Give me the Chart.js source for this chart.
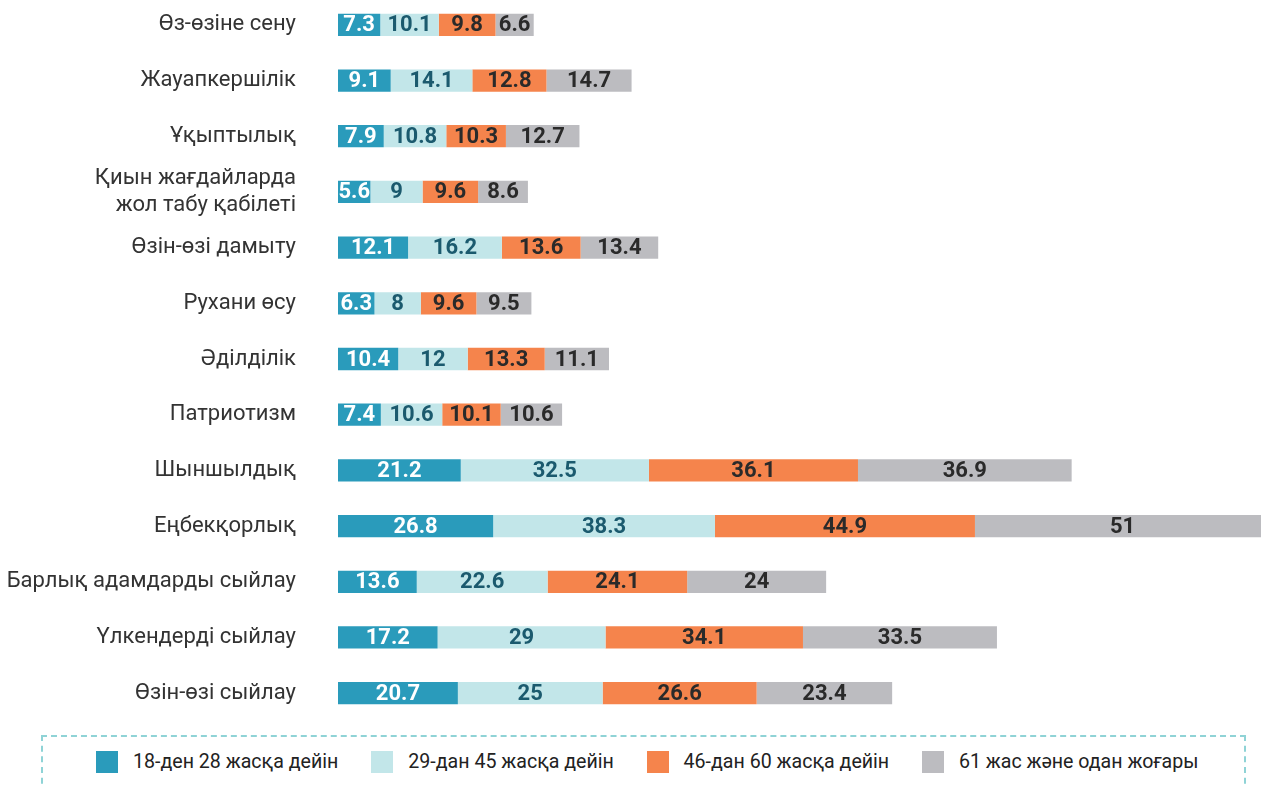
<!DOCTYPE html>
<html><head><meta charset="utf-8">
<script src="https://cdn.jsdelivr.net/npm/chart.js@4.4.1/dist/chart.umd.min.js"></script>
<style>
html,body{margin:0;padding:0;background:#fff;width:1261px;height:785px;overflow:hidden;position:relative;font-family:Roboto,"Noto Sans",sans-serif;}
#wrap{position:absolute;left:0;top:-3px;width:1261px;height:724px;}
#legend{position:absolute;left:41px;top:735px;width:1205px;height:70px;border:2px dashed #8fd3d6;border-bottom:none;box-sizing:border-box;}
.item{position:absolute;top:13px;display:flex;align-items:center;font-size:19.6px;color:#222;white-space:nowrap;}
.sw{width:22px;height:22px;margin-right:15px;}
</style></head><body>
<div id="wrap"><canvas id="c"></canvas></div>
<div id="legend"></div>
<script>
const categories = ["Өз-өзіне сену","Жауапкершілік","Ұқыптылық",["Қиын жағдайларда","жол табу қабілеті"],"Өзін-өзі дамыту","Рухани өсу","Әділділік","Патриотизм","Шыншылдық","Еңбекқорлық","Барлық адамдарды сыйлау","Үлкендерді сыйлау","Өзін-өзі сыйлау"];
const seriesNames = ["18-ден 28 жасқа дейін","29-дан 45 жасқа дейін","46-дан 60 жасқа дейін","61 жас және одан жоғары"];
const age18_28 = [7.3, 9.1, 7.9, 5.6, 12.1, 6.3, 10.4, 7.4, 21.2, 26.8, 13.6, 17.2, 20.7];
const age29_45 = [10.1, 14.1, 10.8, 9, 16.2, 8, 12, 10.6, 32.5, 38.3, 22.6, 29, 25];
const age46_60 = [9.8, 12.8, 10.3, 9.6, 13.6, 9.6, 13.3, 10.1, 36.1, 44.9, 24.1, 34.1, 26.6];
const age61 = [6.6, 14.7, 12.7, 8.6, 13.4, 9.5, 11.1, 10.6, 36.9, 51, 24, 33.5, 23.4];
const colors = ["#2a9bbb","#c2e6e9","#f5844c","#bcbcc0"];
const labelColors = ["#ffffff","#1b5a6e","#2a2a2a","#2a2a2a"];
const seriesValues = [age18_28, age29_45, age46_60, age61];

const valueLabels = {
  id:'valueLabels',
  afterDatasetsDraw(chart){
    const ctx = chart.ctx;
    ctx.save();
    ctx.beginPath();
    ctx.rect(chart.chartArea.left, chart.chartArea.top, chart.chartArea.right-chart.chartArea.left, chart.chartArea.bottom-chart.chartArea.top);
    ctx.clip();
    ctx.font = 'bold 22px Roboto';
    ctx.textAlign='center'; ctx.textBaseline='middle';
    chart.data.datasets.forEach((ds,di)=>{
      const meta = chart.getDatasetMeta(di);
      meta.data.forEach((bar,i)=>{
        const p = bar.getProps(['x','base','y'],true);
        ctx.fillStyle = labelColors[di];
        ctx.fillText(String(ds.data[i]), (p.x+p.base)/2, p.y+1);
      });
    });
    ctx.restore();
  }
};

new Chart(document.getElementById('c'),{
  type:'bar',
  data:{labels:categories,
    datasets: seriesValues.map((v,i)=>({label:seriesNames[i],data:v,backgroundColor:colors[i],borderWidth:0,barPercentage:0.4,categoryPercentage:1}))},
  options:{
    indexAxis:'y', responsive:true, maintainAspectRatio:false, animation:false,
    layout:{padding:0},
    plugins:{legend:{display:false},tooltip:{enabled:false}},
    scales:{
      x:{stacked:true,display:false,min:0,max:159.4},
      y:{stacked:true,grid:{display:false,drawTicks:false},border:{display:false},
         ticks:{padding:42,color:'#333',font:{family:'Roboto',size:22},autoSkip:false},
         afterFit(s){s.width=338;s.paddingTop=0;s.paddingBottom=0;}}
    }
  },
  plugins:[valueLabels]
});

const lg = document.getElementById('legend');
seriesNames.forEach((n,i)=>{
  const d=document.createElement('div'); d.className='item'; d.style.left=(53+i*275.3)+'px';
  const s=document.createElement('span'); s.className='sw'; s.style.background=colors[i];
  const t=document.createElement('span'); t.textContent=n;
  d.appendChild(s); d.appendChild(t); lg.appendChild(d);
});
</script></body></html>
